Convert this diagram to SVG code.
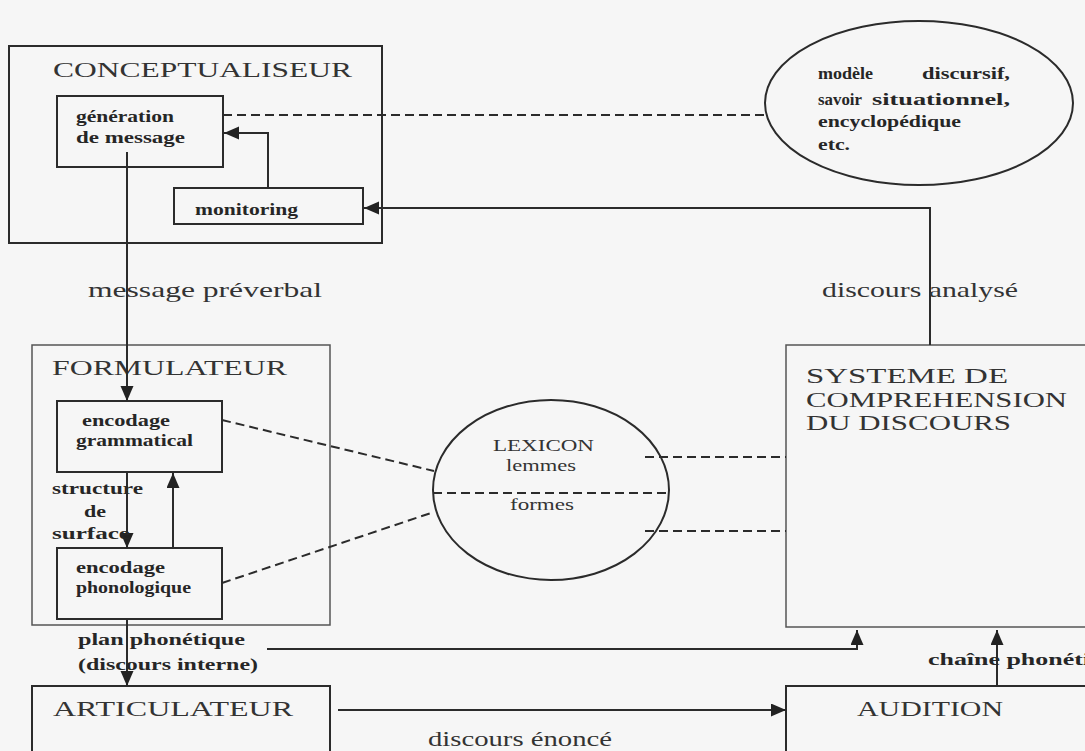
<svg xmlns="http://www.w3.org/2000/svg" width="1085" height="751" viewBox="0 0 1085 751">
<defs>
<marker id="ah" markerUnits="userSpaceOnUse" markerWidth="16" markerHeight="14" refX="15" refY="6.5" orient="auto">
<path d="M0,0 L15,6.5 L0,13 z" fill="#222"/>
</marker>
<style>
.box{fill:none;stroke:#2b2b2b;stroke-width:2}
.thin{fill:none;stroke:#555;stroke-width:1.5}
.arr{fill:none;stroke:#2b2b2b;stroke-width:2;marker-end:url(#ah)}
.dash{fill:none;stroke:#2b2b2b;stroke-width:2;stroke-dasharray:9 5}
text{font-family:"Liberation Serif",serif}
.title{font-size:22px;fill:#333}
.bold{font-size:16px;font-weight:bold;fill:#262626}
.b17{font-size:17px;font-weight:bold;fill:#262626}
.lex{font-size:17px;fill:#333}
.lab{font-size:21px;fill:#333}
</style>
</defs>
<rect x="0" y="0" width="1085" height="751" fill="#f6f6f6"/>

<g id="conceptualiseur">
<rect class="box" x="9" y="46" width="373" height="197"/>
<text class="title" transform="scale(1.4,1)" x="37.86" y="77" textLength="213.6" lengthAdjust="spacingAndGlyphs">CONCEPTUALISEUR</text>
</g>
<g id="generation">
<rect class="box" x="57" y="96" width="166" height="71"/>
<text class="bold" transform="scale(1.4,1)" x="54.29" y="122" textLength="70" lengthAdjust="spacingAndGlyphs">génération</text>
<text class="bold" transform="scale(1.4,1)" x="54.29" y="143" textLength="77.86" lengthAdjust="spacingAndGlyphs">de message</text>
</g>
<g id="monitoring">
<rect class="box" x="174" y="188" width="189" height="36"/>
<text class="bold" transform="scale(1.4,1)" x="139.29" y="215" textLength="73.57" lengthAdjust="spacingAndGlyphs">monitoring</text>
</g>
<g id="savoir">
<ellipse class="box" cx="919" cy="103" rx="154" ry="82"/>
<text class="bold" transform="scale(1.12,1)" x="730.36" y="79" textLength="49.1" lengthAdjust="spacingAndGlyphs">modèle</text>
<text class="bold" transform="scale(1.4,1)" x="658.57" y="79" textLength="62.86" lengthAdjust="spacingAndGlyphs">discursif,</text>
<text class="bold" transform="scale(1.06,1)" x="771.7" y="105" textLength="41.5" lengthAdjust="spacingAndGlyphs">savoir</text>
<text class="bold" transform="scale(1.4,1)" x="622.86" y="105" textLength="98.57" lengthAdjust="spacingAndGlyphs">situationnel,</text>
<text class="bold" transform="scale(1.4,1)" x="584.29" y="127" textLength="102.14" lengthAdjust="spacingAndGlyphs">encyclopédique</text>
<text class="bold" transform="scale(1.4,1)" x="584.29" y="150" textLength="22.86" lengthAdjust="spacingAndGlyphs">etc.</text>
</g>
<g id="formulateur">
<rect class="thin" x="32" y="345" width="298" height="280"/>
<text class="title" transform="scale(1.4,1)" x="37.14" y="375" textLength="167.86" lengthAdjust="spacingAndGlyphs">FORMULATEUR</text>
</g>
<g id="grammatical">
<rect class="box" x="57" y="401" width="165" height="71"/>
<text class="b17" transform="scale(1.4,1)" x="58.57" y="426" textLength="62.86" lengthAdjust="spacingAndGlyphs">encodage</text>
<text class="b17" transform="scale(1.4,1)" x="54.29" y="446" textLength="83.57" lengthAdjust="spacingAndGlyphs">grammatical</text>
</g>
<g id="phonologique">
<rect class="box" x="57" y="548" width="165" height="71"/>
<text class="b17" transform="scale(1.4,1)" x="54.29" y="573" textLength="63.57" lengthAdjust="spacingAndGlyphs">encodage</text>
<text class="b17" transform="scale(1.4,1)" x="54.29" y="593" textLength="82.14" lengthAdjust="spacingAndGlyphs">phonologique</text>
</g>
<g id="lexicon">
<ellipse class="box" cx="551" cy="490" rx="118" ry="90"/>
<line class="dash" x1="433" y1="493" x2="669" y2="493"/>
<text class="lex" transform="scale(1.4,1)" x="352.14" y="451" textLength="72.14" lengthAdjust="spacingAndGlyphs">LEXICON</text>
<text class="lex" transform="scale(1.4,1)" x="361.43" y="471" textLength="50" lengthAdjust="spacingAndGlyphs">lemmes</text>
<text class="lex" transform="scale(1.4,1)" x="364.29" y="510" textLength="45.71" lengthAdjust="spacingAndGlyphs">formes</text>
</g>
<g id="comprehension">
<rect class="thin" x="786" y="345" width="320" height="282"/>
<text class="title" transform="scale(1.4,1)" x="575.71" y="383" textLength="144.29" lengthAdjust="spacingAndGlyphs">SYSTEME DE</text>
<text class="title" transform="scale(1.4,1)" x="575.71" y="407" textLength="186.43" lengthAdjust="spacingAndGlyphs">COMPREHENSION</text>
<text class="title" transform="scale(1.4,1)" x="575.71" y="430" textLength="146.43" lengthAdjust="spacingAndGlyphs">DU DISCOURS</text>
</g>
<g id="articulateur">
<rect class="box" x="32" y="686" width="298" height="80"/>
<text class="title" transform="scale(1.4,1)" x="37.86" y="716" textLength="171.43" lengthAdjust="spacingAndGlyphs">ARTICULATEUR</text>
</g>
<g id="audition">
<rect class="box" x="786" y="686" width="320" height="80"/>
<text class="title" transform="scale(1.4,1)" x="612.14" y="716" textLength="104.29" lengthAdjust="spacingAndGlyphs">AUDITION</text>
</g>

<g id="connectors">
<line class="dash" x1="223" y1="115" x2="767" y2="115"/>
<polyline class="arr" points="268,188 268,133 224,133"/>
<polyline class="arr" points="930,345 930,208 364,208"/>
<line class="arr" x1="127" y1="152" x2="127" y2="401"/>
<line class="arr" x1="127" y1="472" x2="127" y2="548"/>
<line class="arr" x1="173" y1="548" x2="173" y2="473"/>
<line class="arr" x1="127" y1="619" x2="127" y2="686"/>
<polyline class="arr" points="267,649 857,649 857,630"/>
<line class="arr" x1="997" y1="686" x2="997" y2="630"/>
<line class="arr" x1="338" y1="710" x2="786" y2="710"/>
<line class="dash" x1="222" y1="420" x2="434" y2="471"/>
<line class="dash" x1="222" y1="583" x2="434" y2="512"/>
<line class="dash" x1="645" y1="457" x2="786" y2="457"/>
<line class="dash" x1="645" y1="531" x2="786" y2="531"/>
</g>

<g id="labels">
<text class="lab" transform="scale(1.4,1)" x="62.86" y="297" textLength="167.14" lengthAdjust="spacingAndGlyphs">message préverbal</text>
<text class="lab" transform="scale(1.4,1)" x="587.14" y="297" textLength="140" lengthAdjust="spacingAndGlyphs">discours analysé</text>
<text class="b17" transform="scale(1.4,1)" x="37.14" y="494" textLength="65" lengthAdjust="spacingAndGlyphs">structure</text>
<text class="b17" transform="scale(1.4,1)" x="60" y="517" textLength="15.71" lengthAdjust="spacingAndGlyphs">de</text>
<text class="b17" transform="scale(1.4,1)" x="37.14" y="539" textLength="55.71" lengthAdjust="spacingAndGlyphs">surface</text>
<text class="bold" transform="scale(1.4,1)" x="55.71" y="645" textLength="119.29" lengthAdjust="spacingAndGlyphs">plan phonétique</text>
<text class="bold" transform="scale(1.4,1)" x="55.71" y="670" textLength="128.57" lengthAdjust="spacingAndGlyphs">(discours interne)</text>
<text class="bold" transform="scale(1.4,1)" x="662.86" y="665" textLength="115.71" lengthAdjust="spacingAndGlyphs">chaîne phonéti</text>
<text class="lab" transform="scale(1.4,1)" x="305.71" y="746" textLength="131.43" lengthAdjust="spacingAndGlyphs">discours énoncé</text>
</g>
</svg>
